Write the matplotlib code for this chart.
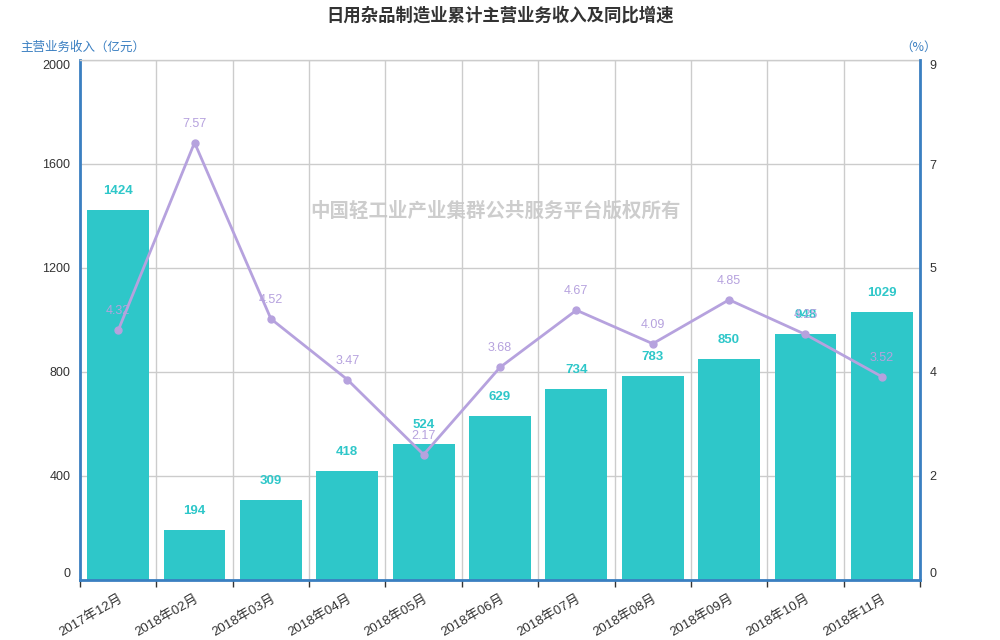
import matplotlib
matplotlib.use("Agg")
import matplotlib.pyplot as plt
import numpy as np

plt.rcParams['font.family'] = ['Liberation Sans', 'Noto Sans CJK SC', 'DejaVu Sans']

categories = ["2017年12月", "2018年02月", "2018年03月", "2018年04月", "2018年05月",
              "2018年06月", "2018年07月", "2018年08月", "2018年09月", "2018年10月", "2018年11月"]
revenue = [1424, 194, 309, 418, 524, 629, 734, 783, 850, 948, 1029]
growth = [4.32, 7.57, 4.52, 3.47, 2.17, 3.68, 4.67, 4.09, 4.85, 4.25, 3.52]
left_ticks = [0, 400, 800, 1200, 1600, 2000]

title = "日用杂品制造业累计主营业务收入及同比增速"
left_name = "主营业务收入（亿元）"
right_name = "（%）"
watermark = "中国轻工业产业集群公共服务平台版权所有"

bar_color = "#2ec7c9"
line_color = "#b6a2de"
axis_color = "#3a7fc1"
grid_color = "#cccccc"
text_color = "#333333"
cjk = ['Noto Sans CJK SC', 'DejaVu Sans']

fig = plt.figure(figsize=(10, 6.4), dpi=100)
ax = fig.add_axes([0.08, 0.09375, 0.84, 0.8125])
ax2 = ax.twinx()

x = np.arange(len(categories))
ax.bar(x, revenue, width=0.81, color=bar_color, zorder=2)
ax.set_xlim(-0.5, len(categories) - 0.5)
ax.set_ylim(0, 2000)
ax.set_yticks(left_ticks)
ax.set_yticklabels([str(v) for v in left_ticks])
ax.tick_params(axis='y', length=0, pad=7, labelsize=9, labelcolor=text_color)
lbls = ax.get_yticklabels()
lbls[0].set_va('bottom')
lbls[-1].set_va('top')

ax.set_xticks(x)
ax.set_xticklabels(categories, rotation=30, ha='right', rotation_mode='anchor')
ax.tick_params(axis='x', which='major', length=0, pad=9, labelsize=9.5, labelcolor=text_color)
ax.set_xticks(np.arange(-0.5, len(categories), 1.0), minor=True)
ax.tick_params(axis='x', which='minor', length=5, color=text_color, width=1)
ax.grid(True, which='minor', axis='x', color=grid_color, lw=1, zorder=0)
ax.grid(True, which='major', axis='y', color=grid_color, lw=1, zorder=0)
ax.set_axisbelow(True)

for xi, v in zip(x, revenue):
    ax.annotate(str(v), (xi, v), xytext=(0, 19), textcoords='offset pixels',
                ha='center', va='center', color=bar_color, fontsize=9.5,
                fontweight='bold', zorder=5)

ax2.plot(x, growth, color=line_color, lw=2, marker='o', markersize=5, zorder=4)
ax2.set_ylim(0, 9)
rt = np.linspace(0, 9, 6)
ax2.set_yticks(rt)
ax2.set_yticklabels(["{:.0f}".format(v) for v in rt])
ax2.tick_params(axis='y', length=0, pad=7, labelsize=9, labelcolor=text_color)
rl = ax2.get_yticklabels()
rl[0].set_va('bottom')
rl[-1].set_va('top')
for xi, v in zip(x, growth):
    ax2.annotate("{:.2f}".format(v), (xi, v), xytext=(0, 19), textcoords='offset pixels',
                 ha='center', va='center', color=line_color, fontsize=9, zorder=5)

for a in (ax, ax2):
    for s in ('left', 'right', 'bottom'):
        a.spines[s].set_color(axis_color)
        a.spines[s].set_linewidth(2)
    a.spines['top'].set_visible(False)
ax.spines['right'].set_visible(False)
ax2.spines['left'].set_visible(False)
ax2.spines['bottom'].set_visible(False)
ax.spines['top'].set_visible(True)
ax.spines['top'].set_color(grid_color)
ax.spines['top'].set_linewidth(1)

fig.text(0.5, 1 - 16 / 640, title, ha='center', va='center', fontsize=12.5,
         fontweight='bold', color=text_color, family=cjk)
fig.text(20 / 1000, 1 - 47 / 640, left_name, ha='left', va='center', fontsize=9,
         color=axis_color, family=cjk)
fig.text(937 / 1000, 1 - 47 / 640, right_name, ha='right', va='center', fontsize=9,
         color=axis_color, family=cjk)
fig.text(0.496, 1 - 211 / 640, watermark, ha='center', va='center', fontsize=14,
         fontweight='bold', color='#c8c8c8', alpha=0.9, zorder=10, family=cjk)

fig.savefig("out.png", dpi=100)
